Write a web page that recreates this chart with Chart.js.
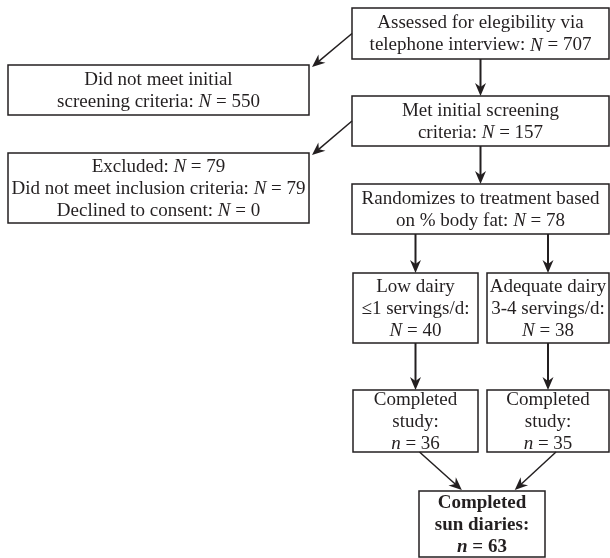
<!DOCTYPE html>
<html>
<head>
<meta charset="utf-8">
<script src="https://cdn.jsdelivr.net/npm/chart.js@4/dist/chart.umd.min.js"></script>
<style>
  html, body { margin: 0; padding: 0; background: #fff; }
  #wrap { width: 610px; height: 558px; position: relative; }
</style>
</head>
<body>
<div id="wrap"><canvas id="flow"></canvas></div>
<script>
// Text of each step, {N}/{n} is replaced by the count (italic letter)
const stepLines = [
  ['Assessed for elegibility via', 'telephone interview: {N}'],
  ['Did not meet initial', 'screening criteria: {N}'],
  ['Met initial screening', 'criteria: {N}'],
  ['Excluded: {N}', 'Did not meet inclusion criteria: {N}', 'Declined to consent: {N}'],
  ['Randomizes to treatment based', 'on % body fat: {N}'],
  ['Low dairy', '\u22641 servings/d:', '{N}'],
  ['Adequate dairy', '3-4 servings/d:', '{N}'],
  ['Completed', 'study:', '{n}'],
  ['Completed', 'study:', '{n}'],
  ['Completed', 'sun diaries:', '{n}']
];
// Counts, in the order the placeholders appear
const stepCounts = [[707], [550], [157], [79, 79, 0], [78], [40], [38], [36], [35], [63]];
const boldSteps = [9];

// Layout, in scale units (x1, y1, x2, y2)
const stepFrames = [
  [352, 8, 609, 59],
  [8, 65, 309, 115],
  [352, 96, 609, 146],
  [8, 153, 309, 223],
  [352, 184, 609, 234],
  [353, 273, 478, 343],
  [487, 273, 609, 343],
  [353, 390, 478, 452],
  [487, 390, 609, 452],
  [419, 491, 545, 557]
];
// from, to, kind
const links = [
  [0, 1, 'side'], [0, 2, 'down'],
  [2, 3, 'side'], [2, 4, 'down'],
  [4, 5, 'down'], [4, 6, 'down'],
  [5, 7, 'down'], [6, 8, 'down'],
  [7, 9, 'diag', 0.34], [8, 9, 'diag', 0.76]
];

const FONT = '"Liberation Serif", "DejaVu Serif", serif';
const SIZE = 19;
const INK = '#231f20';

function segmentsFor(line, counts) {
  const segs = [];
  let rest = line;
  while (rest.length) {
    const m = rest.match(/\{(N|n)\}/);
    if (!m) { segs.push({ t: rest, it: false }); break; }
    if (m.index > 0) segs.push({ t: rest.slice(0, m.index), it: false });
    segs.push({ t: m[1], it: true });
    segs.push({ t: ' = ' + counts.shift(), it: false });
    rest = rest.slice(m.index + m[0].length);
  }
  return segs;
}

function arrow(ctx, x1, y1, x2, y2, width) {
  const ang = Math.atan2(y2 - y1, x2 - x1);
  const len = 13, half = 5.5;
  const bx = x2 - Math.cos(ang) * len, by = y2 - Math.sin(ang) * len;
  ctx.lineWidth = width;
  ctx.beginPath();
  ctx.moveTo(x1, y1);
  ctx.lineTo(x2 - Math.cos(ang) * 6, y2 - Math.sin(ang) * 6);
  ctx.stroke();
  ctx.beginPath();
  ctx.moveTo(x2, y2);
  ctx.lineTo(bx - Math.sin(ang) * half, by + Math.cos(ang) * half);
  ctx.lineTo(x2 - Math.cos(ang) * 9, y2 - Math.sin(ang) * 9);
  ctx.lineTo(bx + Math.sin(ang) * half, by - Math.cos(ang) * half);
  ctx.closePath();
  ctx.fill();
}

const flowPlugin = {
  id: 'flow',
  afterDraw(chart) {
    const ctx = chart.ctx;
    const xs = chart.scales.x, ys = chart.scales.y;
    const px = v => xs.getPixelForValue(v);
    const py = v => ys.getPixelForValue(v);
    ctx.save();
    ctx.strokeStyle = INK;
    ctx.fillStyle = INK;

    // boxes and text
    stepFrames.forEach((f, i) => {
      const x1 = px(f[0]), y1 = py(f[1]), x2 = px(f[2]), y2 = py(f[3]);
      ctx.lineWidth = 1.5;
      ctx.strokeRect(x1, y1, x2 - x1, y2 - y1);
      const bold = boldSteps.includes(i) ? 'bold ' : '';
      const counts = stepCounts[i].slice();
      const lines = stepLines[i];
      const lh = 22;
      const cx = (x1 + x2) / 2, cy = (y1 + y2) / 2;
      ctx.textBaseline = 'middle';
      lines.forEach((line, k) => {
        const segs = segmentsFor(line, counts);
        let total = 0;
        segs.forEach(s => {
          ctx.font = (s.it ? 'italic ' : '') + bold + SIZE + 'px ' + FONT;
          s.w = ctx.measureText(s.t).width;
          total += s.w;
        });
        let x = cx - total / 2;
        const y = cy + (k - (lines.length - 1) / 2) * lh + 1;
        segs.forEach(s => {
          ctx.font = (s.it ? 'italic ' : '') + bold + SIZE + 'px ' + FONT;
          ctx.textAlign = 'left';
          ctx.fillText(s.t, x, y);
          x += s.w;
        });
      });
    });

    // arrows
    links.forEach(l => {
      const a = stepFrames[l[0]], b = stepFrames[l[1]];
      if (l[2] === 'side') {
        arrow(ctx, px(a[0]), py((a[1] + a[3]) / 2), px(b[2] + 3), py(b[1] + 2), 1.5);
      } else if (l[2] === 'down') {
        const x = px((b[0] + b[2]) / 2);
        arrow(ctx, x, py(a[3]), x, py(b[1]), 2);
      } else {
        const sx = px((a[0] + a[2]) / 2 + (l[3] < 0.5 ? 4 : 8));
        const tx = px(b[0] + (b[2] - b[0]) * l[3]);
        arrow(ctx, sx, py(a[3]), tx, py(b[1] - 1), 1.5);
      }
    });
    ctx.restore();
  }
};

new Chart(document.getElementById('flow'), {
  type: 'scatter',
  data: { datasets: [{ data: [], pointRadius: 0 }] },
  options: {
    responsive: true,
    maintainAspectRatio: false,
    animation: false,
    layout: { padding: 0 },
    plugins: { legend: { display: false }, tooltip: { enabled: false } },
    scales: {
      x: { type: 'linear', min: 0, max: 610, display: false },
      y: { type: 'linear', min: 0, max: 558, reverse: true, display: false }
    }
  },
  plugins: [flowPlugin]
});
</script>
</body>
</html>
